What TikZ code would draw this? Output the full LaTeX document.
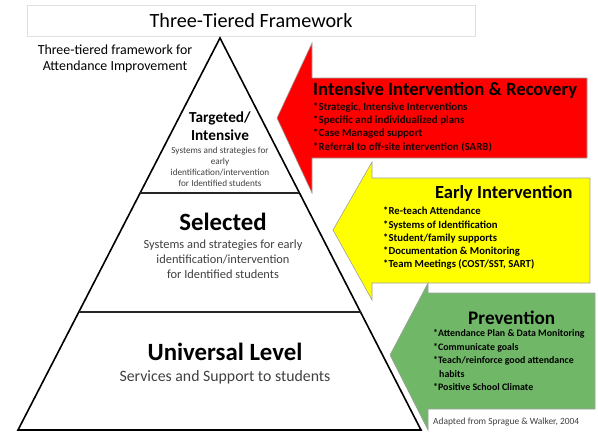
\documentclass[tikz,border=0pt]{standalone}
\usepackage{fontspec}
\setmainfont{Carlito}
\usepackage{xcolor}
\usepackage{tikz}
\usetikzlibrary{calc, positioning}
\definecolor{redarrow}{HTML}{FF0000}
\definecolor{yellowarrow}{HTML}{FFFF00}
\definecolor{greenarrow}{HTML}{70B868}
\definecolor{tiertext}{HTML}{404040}
\definecolor{reditem}{HTML}{1A0000}

\begin{document}
\begin{tikzpicture}[
  x=1pt, y=-1pt,
  tierline/.style={line width=1.6pt, black},
  arrowshape/.style={draw=gray!75, line width=0.6pt},
  tiertitle/.style={font=\bfseries\fontsize{24.8}{28}\selectfont, align=center, inner sep=0pt},
  tierdesc/.style={text=tiertext, align=center, inner sep=0pt},
  calltitle/.style={anchor=west, inner sep=0pt, font=\bfseries\fontsize{18.7}{22}\selectfont},
  callitems/.style={anchor=west, inner sep=0pt, align=left}
]
  \useasboundingbox (0,0) rectangle (598,432);

  % header
  \node[draw=gray!25, line width=0.8pt, minimum width=448pt, minimum height=31pt, inner sep=0pt,
        font=\fontsize{20.2}{24}\selectfont] (header) at (251,20.5) {Three-Tiered Framework};
  \node[align=center, inner sep=0pt, font=\fontsize{13.9}{16}\selectfont] (subhead) at (115,59)
    {Three-tiered framework for\\Attendance Improvement};

  % pyramid
  \coordinate (apex) at (220,38);
  \coordinate (bl) at (18,430);
  \coordinate (br) at (421,430);
  \draw[tierline, line join=miter] (apex) -- (bl) -- (br) -- cycle;
  \draw[tierline, black!85] ($(apex)!0.3954!(bl)$) -- ($(apex)!0.3954!(br)$);
  \draw[tierline, black!85] ($(apex)!0.699!(bl)$) -- ($(apex)!0.699!(br)$);

  \node[tiertitle, font=\bfseries\fontsize{15.3}{18}\selectfont] (targeted) at (220,126) {Targeted/\\Intensive};
  \node[tierdesc, font=\fontsize{9.2}{11}\selectfont] (targeteddesc) at (220,166.5)
    {Systems and strategies for\\early\\identification/intervention\\for Identified students};
  \node[tiertitle] (selected) at (223,222) {Selected};
  \node[tierdesc, font=\fontsize{12.4}{15}\selectfont] (selecteddesc) at (223,259)
    {Systems and strategies for early\\identification/intervention\\for Identified students};
  \node[tiertitle] (universal) at (225,352) {Universal Level};
  \node[tierdesc, font=\fontsize{15.8}{18}\selectfont] (universaldesc) at (225,377)
    {Services and Support to students};

  % call-out arrows
  \fill[redarrow, arrowshape] (277,118) -- (312,43) -- (312,78) -- (587,78) -- (587,158)
    -- (312,158) -- (312,193) -- cycle;
  \fill[yellowarrow, arrowshape] (333,230) -- (372,162) -- (372,178) -- (590,178) -- (590,283)
    -- (372,283) -- (372,300) -- cycle;
  \fill[greenarrow, arrowshape] (390,355) -- (428,283) -- (428,293) -- (595,293) -- (595,409)
    -- (428,409) -- (428,430) -- cycle;

  \node[calltitle] (intensive) at (313,90) {Intensive Intervention \& Recovery};
  \node[callitems, text=reditem, font=\bfseries\fontsize{10.9}{13.3}\selectfont] (intensiveitems) at (313,127)
    {*Strategic, Intensive Interventions\\*Specific and individualized plans\\*Case Managed support\\*Referral to off-site intervention (SARB)};
  \node[calltitle, font=\bfseries\fontsize{18.5}{22}\selectfont] (early) at (435,193) {Early Intervention};
  \node[callitems, font=\bfseries\fontsize{10.7}{13.25}\selectfont] (earlyitems) at (383,238.5)
    {*Re-teach Attendance\\*Systems of Identification\\*Student/family supports\\*Documentation \& Monitoring\\*Team Meetings (COST/SST, SART)};
  \node[calltitle, font=\bfseries\fontsize{19.2}{22}\selectfont] (prevention) at (468,318) {Prevention};
  \node[callitems, font=\bfseries\fontsize{9.9}{13.5}\selectfont] (preventionitems) at (433,360)
    {*Attendance Plan \& Data Monitoring\\*Communicate goals\\*Teach/reinforce good attendance\\\hspace*{6pt}habits\\*Positive School Climate};

  \node[anchor=west, inner sep=0pt, text=tiertext, font=\fontsize{9.4}{11}\selectfont] (source) at (433,422)
    {Adapted from Sprague \& Walker, 2004};
\end{tikzpicture}
\end{document}
